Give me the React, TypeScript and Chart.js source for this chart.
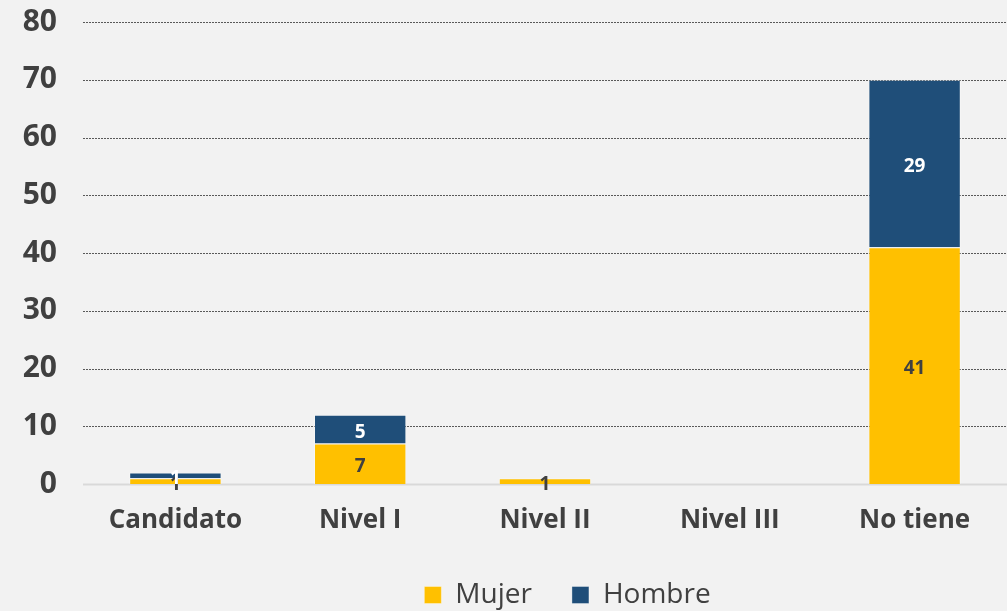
import React, { useEffect, useRef } from "react";
import { Chart, registerables } from "chart.js";

Chart.register(...registerables);

const categories = ["Candidato", "Nivel I", "Nivel II", "Nivel III", "No tiene"];
const mujer = [1, 7, 1, 0, 41];
const hombre = [1, 5, 0, 0, 29];
const yTicks = [0, 10, 20, 30, 40, 50, 60, 70, 80];

const FONT = "'Open Sans', 'Noto Sans', sans-serif";
const TEXT = "#404040";

const gridPlugin = {
  id: "dottedGrid",
  beforeDatasetsDraw(chart: any) {
    const { ctx, chartArea, scales } = chart;
    const y = scales.y;
    ctx.save();
    yTicks.forEach((v) => {
      const py = Math.round(y.getPixelForValue(v)) + 0.5;
      ctx.beginPath();
      if (v === 0) {
        ctx.setLineDash([]);
        ctx.strokeStyle = "#d9d9d9";
        ctx.lineWidth = 2;
      } else {
        ctx.setLineDash([2, 1]);
        ctx.strokeStyle = "#595959";
        ctx.lineWidth = 1;
      }
      ctx.moveTo(chartArea.left, py);
      ctx.lineTo(chartArea.right, py);
      ctx.stroke();
    });
    ctx.restore();
  },
};

const labelPlugin = {
  id: "barLabels",
  afterDatasetsDraw(chart: any) {
    const { ctx } = chart;
    ctx.save();
    ctx.font = `bold 19px ${FONT}`;
    ctx.textAlign = "center";
    ctx.textBaseline = "middle";
    chart.data.datasets.forEach((ds: any, di: number) => {
      const meta = chart.getDatasetMeta(di);
      meta.data.forEach((bar: any, i: number) => {
        const v = ds.data[i];
        if (!v) return;
        ctx.fillStyle = di === 0 ? TEXT : "#ffffff";
        ctx.fillText(String(v), bar.x, (bar.y + bar.base) / 2 + 3);
      });
    });
    ctx.restore();
  },
};

const legendShift = {
  id: "legendShift",
  afterLayout(chart: any) {
    const lg = chart.legend;
    if (!lg) return;
    lg.left += 64;
    lg.right += 64;
    lg.top += 8;
    lg.bottom += 8;
  },
};

export default function App() {
  const ref = useRef<HTMLCanvasElement | null>(null);

  useEffect(() => {
    if (!ref.current) return;
    const chart = new Chart(ref.current, {
      type: "bar",
      data: {
        labels: categories,
        datasets: [
          {
            label: "Mujer",
            data: mujer,
            backgroundColor: "#FFC000",
            borderColor: "rgba(255,255,255,0.35)",
            borderWidth: 1,
            barPercentage: 0.5,
            categoryPercentage: 1,
          },
          {
            label: "Hombre",
            data: hombre,
            backgroundColor: "#1F4E79",
            borderColor: "rgba(255,255,255,0.35)",
            borderWidth: 1,
            barPercentage: 0.5,
            categoryPercentage: 1,
          },
        ],
      },
      options: {
        animation: false,
        responsive: false,
        maintainAspectRatio: false,
        layout: { padding: { left: 0, right: 0, top: 22, bottom: 0 } },
        scales: {
          x: {
            stacked: true,
            grid: { display: false, drawTicks: false },
            border: { display: false },
            ticks: {
              color: TEXT,
              font: { family: FONT, size: 26, weight: "bold" },
              padding: 21,
            },
            afterFit: (s: any) => {
              s.height = 49;
            },
          },
          y: {
            stacked: true,
            min: 0,
            max: 80,
            grid: { display: false, drawTicks: false },
            border: { display: false },
            ticks: {
              stepSize: 10,
              color: TEXT,
              font: { family: FONT, size: 30, weight: "bold" },
              padding: 26,
            },
            afterFit: (s: any) => {
              s.width = 83;
              s.paddingTop = 0;
              s.paddingBottom = 0;
            },
          },
        },
        plugins: {
          legend: {
            position: "bottom",
            labels: {
              color: TEXT,
              font: { family: FONT, size: 28 },
              boxWidth: 17,
              boxHeight: 17,
              padding: 40,
            },
          },
          tooltip: { enabled: false },
        },
      },
      plugins: [gridPlugin, labelPlugin, legendShift],
    });
    return () => chart.destroy();
  }, []);

  return (
    <div
      style={{
        position: "fixed",
        left: 0,
        top: 0,
        width: 1007,
        height: 611,
        background: "#f2f2f2",
      }}
    >
      <canvas ref={ref} width={1007} height={611} style={{ display: "block" }} />
    </div>
  );
}
